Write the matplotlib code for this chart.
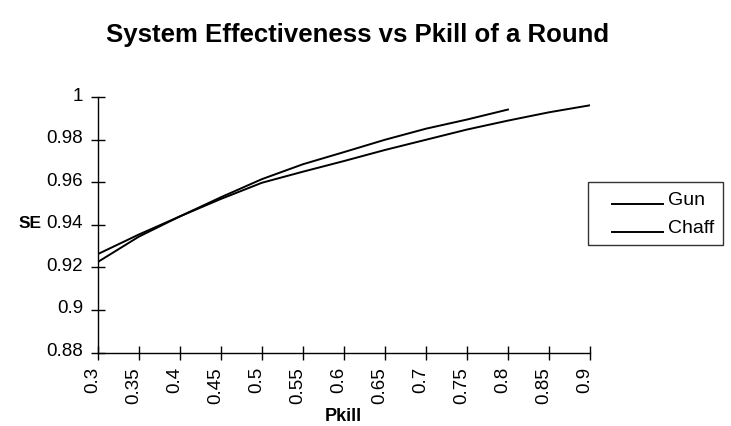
import matplotlib
matplotlib.use('Agg')
import matplotlib.pyplot as plt
import matplotlib.transforms as mtransforms
from matplotlib.legend_handler import HandlerLine2D

plt.rcParams['font.family'] = ['Liberation Sans', 'DejaVu Sans']

# Data
pkill_gun = [0.30, 0.35, 0.40, 0.45, 0.50, 0.55, 0.60, 0.65, 0.70, 0.75, 0.80, 0.85, 0.90]
se_gun = [0.9263, 0.9355, 0.9440, 0.9522, 0.9598, 0.9650, 0.9700, 0.9752, 0.9800, 0.9848, 0.9890, 0.9929, 0.9962]

pkill_chaff = [0.30, 0.35, 0.40, 0.45, 0.50, 0.55, 0.60, 0.65, 0.70, 0.75, 0.80]
se_chaff = [0.9226, 0.9345, 0.9440, 0.9530, 0.9615, 0.9685, 0.9742, 0.9800, 0.9852, 0.9895, 0.9942]

xticks = [0.3, 0.35, 0.4, 0.45, 0.5, 0.55, 0.6, 0.65, 0.7, 0.75, 0.8, 0.85, 0.9]
yticks = [0.88, 0.9, 0.92, 0.94, 0.96, 0.98, 1.0]

fig = plt.figure(figsize=(7.31, 4.27), dpi=100)
ax = fig.add_axes([0.134, 0.172, 0.673, 0.598])

ax.plot(pkill_gun, se_gun, color='black', linewidth=1.4, label='Gun')
ax.plot(pkill_chaff, se_chaff, color='black', linewidth=1.4, label='Chaff')

ax.set_xlim(0.3, 0.9)
ax.set_ylim(0.88, 1.0)
ax.set_xticks(xticks)
ax.set_xticklabels([f'{t:g}' for t in xticks], rotation=90)
ax.set_yticks(yticks)
ax.set_yticklabels([f'{t:g}' for t in yticks])
ax.tick_params(direction='inout', length=9.5, width=1, labelsize=13.5, colors='black')
ax.tick_params(axis='x', pad=5)
ax.tick_params(axis='y', pad=6)

# labels in the original sit a little up/left of their ticks
shift_y = mtransforms.ScaledTranslation(0, 4 / 100, fig.dpi_scale_trans)
for lab in ax.get_yticklabels():
    lab.set_transform(lab.get_transform() + shift_y)
shift_x = mtransforms.ScaledTranslation(-5 / 100, 0, fig.dpi_scale_trans)
for lab in ax.get_xticklabels():
    lab.set_transform(lab.get_transform() + shift_x)

for s in ['top', 'right']:
    ax.spines[s].set_visible(False)
for s in ['left', 'bottom']:
    ax.spines[s].set_linewidth(1)


def low_handle(legline, orig):
    # underscore-like legend line: shorter and below the text centre
    legline.update_from(orig)
    x = legline.get_xdata()
    y = legline.get_ydata()
    legline.set_xdata([x[0] + 11, x[-1]])
    legline.set_ydata([y[0] - 4.5, y[-1] - 4.5])


leg = ax.legend(loc='center left', bbox_to_anchor=(588 / 731, 1 - 214.5 / 427),
                bbox_transform=fig.transFigure, frameon=True, fancybox=False,
                edgecolor='black', fontsize=14, handlelength=3.4, handletextpad=0.25,
                borderpad=0.45, labelspacing=0.55, borderaxespad=0,
                handler_map={plt.Line2D: HandlerLine2D(update_func=low_handle)})
leg.get_frame().set_linewidth(1)

fig.text(0.489, 1 - 35 / 427, 'System Effectiveness vs Pkill of a Round',
         ha='center', va='center', fontsize=18.5, fontweight='bold')
fig.text(0.041, 1 - 224 / 427, 'SE', ha='center', va='center', fontsize=12.5, fontweight='bold')
fig.text(0.469, 1 - 417 / 427, 'Pkill', ha='center', va='center', fontsize=13, fontweight='bold')

fig.savefig('out.png', dpi=100)
